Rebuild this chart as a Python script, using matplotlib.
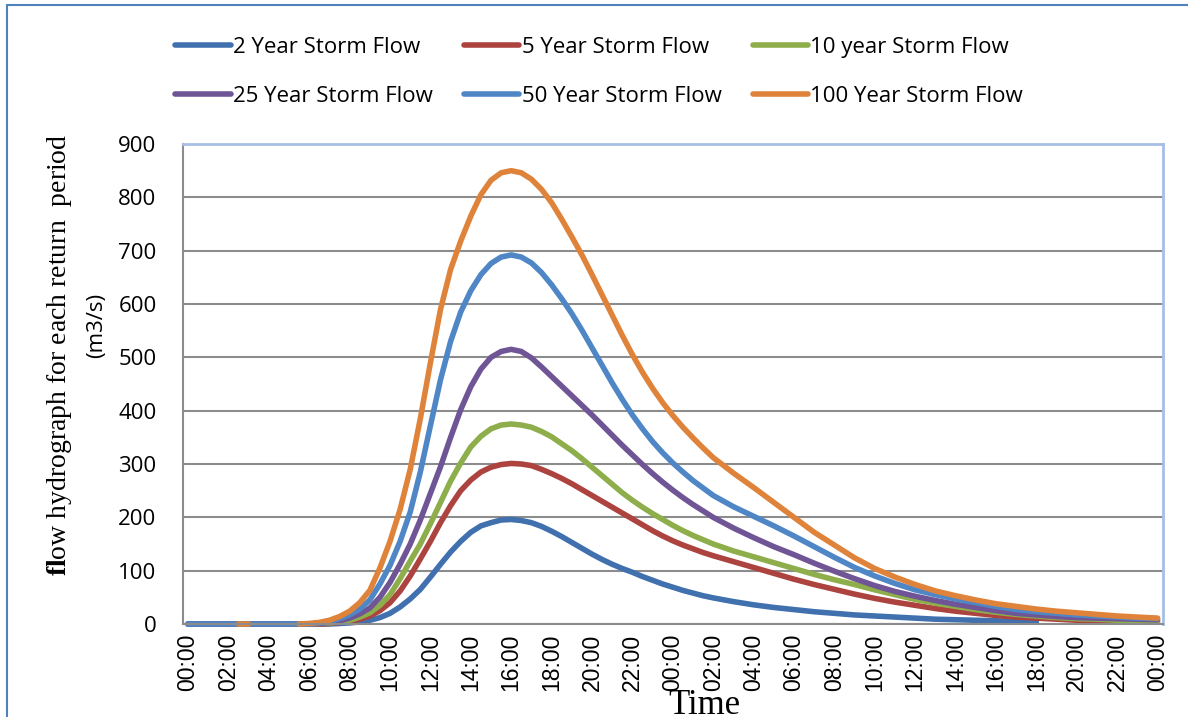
import numpy as np
import matplotlib
matplotlib.use("Agg")
import matplotlib.pyplot as plt
from matplotlib.lines import Line2D
from matplotlib.patches import Rectangle

nan = np.nan

# Time axis in hours from the start of the storm (half-hourly, then hourly)
hours = list(np.arange(0, 26.5, 0.5)) + list(range(27, 49))

flow_2yr = [0, 0, 0, 0, 0, 0, 0, 0, 0, 0, 0, 0, 0, 0, 0, 1, 2, 4, 7, 12,
            20, 32, 47, 65, 88, 112, 135, 155, 172, 184, 190, 195, 196, 194, 190, 183, 174, 164, 153, 142,
            131, 121, 112, 104, 97, 89, 82, 75, 69, 63, 58, 53, 49,
            42, 36, 31, 27, 23, 20, 17, 15, 13, 11, 9, 8, 7, 6, 5, 4, nan, nan, nan, nan, nan, nan]

flow_5yr = [0, 0, 0, 0, 0, 0, 0, 0, 0, 0, 0, 0, 0, 0, 1, 3, 5, 9, 15, 25,
            40, 62, 90, 122, 155, 190, 222, 250, 270, 285, 294, 299, 301, 300, 297, 290, 282, 273, 263, 252,
            241, 230, 219, 208, 197, 186, 175, 165, 156, 148, 141, 134, 128,
            117, 106, 95, 84, 74, 65, 56, 48, 41, 35, 29, 24, 20, 16, 13, 11, 9, 7, 6, 5, 4, 4]

flow_10yr = [0, 0, 0, 0, 0, 0, 0, 0, 0, 0, 0, 0, 0, 1, 2, 4, 7, 13, 21, 35,
             55, 85, 118, 150, 188, 228, 268, 302, 332, 352, 366, 373, 375, 373, 369, 361, 351, 338, 325, 310,
             294, 278, 262, 246, 232, 219, 207, 196, 185, 175, 166, 158, 150,
             137, 126, 115, 104, 93, 83, 74, 64, 55, 46, 39, 33, 27, 22, 18, 15, 12, 10, 9, 7, 6, 5]

flow_25yr = [0, 0, 0, 0, 0, 0, 0, 0, 0, 0, 0, 0, 0, 1, 3, 6, 11, 19, 30, 50,
             78, 112, 150, 195, 245, 295, 350, 402, 445, 478, 500, 511, 515, 511, 499, 482, 464, 446, 428, 410,
             392, 373, 354, 335, 317, 299, 282, 266, 251, 237, 224, 212, 200,
             180, 162, 145, 130, 114, 99, 85, 72, 61, 52, 44, 37, 31, 25, 20, 17, 14, 12, 11, 10, 9, 8]

flow_50yr = [0, 0, 0, 0, 0, 0, 0, 0, 0, 0, 0, 0, 0, 2, 5, 10, 17, 28, 45, 75,
             110, 155, 210, 285, 372, 458, 530, 585, 625, 655, 676, 688, 692, 688, 677, 659, 636, 610, 582, 551,
             518, 485, 452, 421, 392, 366, 342, 321, 302, 285, 269, 255, 241,
             220, 202, 184, 165, 145, 125, 106, 90, 76, 64, 55, 47, 40, 33, 27, 23, 20, 17, 15, 13, 11, 10]

flow_100yr = [nan, nan, nan, nan, nan, 0, 0, nan, nan, nan, nan, 0, 1, 3, 7, 14, 24, 40, 63, 105,
              155, 215, 290, 385, 490, 590, 665, 718, 765, 805, 832, 846, 850, 846, 834, 815, 790, 759, 726, 692,
              655, 617, 579, 541, 505, 472, 442, 415, 391, 369, 349, 330, 312,
              283, 256, 228, 200, 172, 148, 124, 104, 88, 74, 62, 53, 45, 38, 33, 28, 24, 21, 18, 15, 13, 11]

series_names = ["2 Year Storm Flow", "5 Year Storm Flow", "10 year Storm Flow",
                "25 Year Storm Flow", "50 Year Storm Flow", "100 Year Storm Flow"]
series_values = [flow_2yr, flow_5yr, flow_10yr, flow_25yr, flow_50yr, flow_100yr]
series_colors = ["#4170AE", "#AC433F", "#8DAE4B", "#6F5595", "#4F86C6", "#E0833A"]

tick_hours = list(range(0, 49, 2))
tick_labels = ["00:00", "02:00", "04:00", "06:00", "08:00", "10:00", "12:00",
               "14:00", "16:00", "18:00", "20:00", "22:00",
               "00:00", "02:00", "04:00", "06:00", "08:00", "10:00", "12:00",
               "14:00", "16:00", "18:00", "20:00", "22:00", "00:00"]
y_ticks = list(range(0, 1000, 100))

W, H = 1188, 717
fig = plt.figure(figsize=(W / 100, H / 100), dpi=100)
ax = fig.add_axes([183 / W, 1 - 624 / H, 980 / W, 480 / H])

grid_color = "#8C8C8C"
for name, vals, col in zip(series_names, series_values, series_colors):
    ax.plot(hours, np.array(vals, dtype=float), color=col, lw=4.0,
            solid_capstyle="round", solid_joinstyle="round",
            clip_on=False, label=name)

ax.set_xlim(-0.25, 48.27)
ax.set_ylim(0, 900)
ax.set_yticks(y_ticks)
ax.set_yticklabels([str(v) for v in y_ticks], fontsize=16, family="Open Sans")
ax.set_xticks(tick_hours)
ax.set_xticklabels(tick_labels, rotation=90, fontsize=16.5, family="Liberation Sans")
ax.tick_params(axis="y", length=0, pad=19)
ax.tick_params(axis="x", length=0, pad=7)

ax.grid(axis="y", color=grid_color, lw=1.5)
ax.set_axisbelow(True)
for side in ("left", "bottom"):
    ax.spines[side].set_color(grid_color)
    ax.spines[side].set_linewidth(1.5)
for side in ("top", "right"):
    ax.spines[side].set_color("#A7BFE5")
    ax.spines[side].set_linewidth(2.0)

# Legend laid out row by row (column-major fill order of matplotlib)
order = [0, 3, 1, 4, 2, 5]
leg_handles = [Line2D([], [], color=series_colors[i], lw=4.0, solid_capstyle="round") for i in order]
leg_labels = [series_names[i] for i in order]
fig.legend(leg_handles, leg_labels, ncol=3, loc="upper left",
           bbox_to_anchor=(175 / W, 1 - 37 / H), frameon=False,
           prop={"family": "Open Sans", "size": 16},
           handlelength=2.5, handletextpad=0.1, columnspacing=1.4,
           labelspacing=1.25, borderpad=0, borderaxespad=0)

# Axis titles
plt.rcParams["mathtext.fontset"] = "custom"
plt.rcParams["mathtext.rm"] = "Liberation Serif"
plt.rcParams["mathtext.bf"] = "Liberation Serif:bold"
fig.text(60 / W, 1 - 355 / H, r"$\mathbf{fl}$ow hydrograph for each return  period",
         rotation=90, ha="center", va="center", fontsize=20, family="Liberation Serif")
fig.text(97 / W, 1 - 325 / H, "(m3/s)", rotation=90, ha="center", va="center",
         fontsize=16, family="Open Sans")
fig.text(704 / W, 1 - 689 / H, "Time", ha="center", va="top", fontsize=25,
         family="Liberation Serif")

# Outer chart border
fig.patches.append(Rectangle((7 / W, -0.2), 1.2, 1.2 - 5 / H, transform=fig.transFigure,
                             fill=False, ec="#4F81BD", lw=1.5))

fig.savefig("out.png", dpi=100)
